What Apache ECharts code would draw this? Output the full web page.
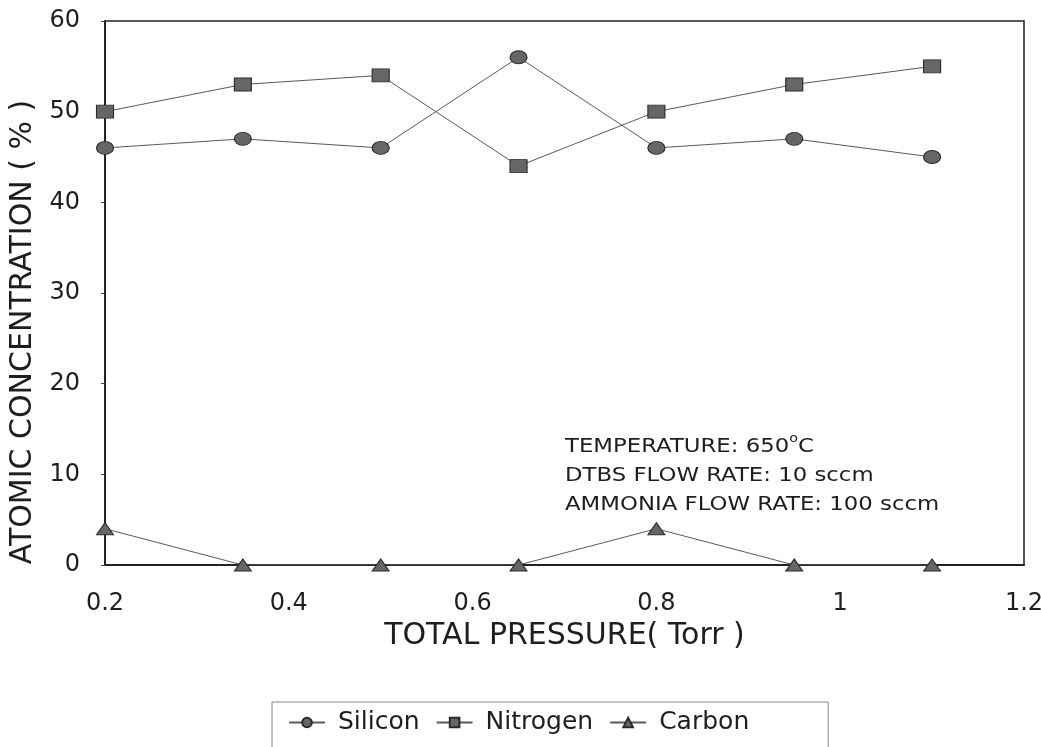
<!DOCTYPE html>
<html>
<head>
<meta charset="utf-8">
<script src="https://cdn.jsdelivr.net/npm/echarts@6/dist/echarts.min.js"></script>
<style>
  html, body { margin: 0; padding: 0; background: #fff; }
  #chart { width: 1041px; height: 747px; }
</style>
</head>
<body>
<div id="chart"></div>
<script>
// Total pressure (Torr)
const pressure = [0.2, 0.35, 0.5, 0.65, 0.8, 0.95, 1.1];
// Atomic concentration (%)
const silicon  = [46, 47, 46, 56, 46, 47, 45];
const nitrogen = [50, 53, 54, 44, 50, 53, 55];
const carbon   = [4, 0, 0, 0, 4, 0, 0];

const xTicks = [0.2, 0.4, 0.6, 0.8, 1, 1.2];
const yTicks = [0, 10, 20, 30, 40, 50, 60];

const conditions = [
  'TEMPERATURE: 650{sup|o}C',
  'DTBS FLOW RATE: 10 sccm',
  'AMMONIA FLOW RATE: 100 sccm'
];

const FONT = '"DejaVu Sans", "Liberation Sans", Arial, sans-serif';
const INK = '#1e1e1e';
const chart = echarts.init(document.getElementById('chart'), null, { renderer: 'canvas' });

function pairs(ys) { return pressure.map((x, i) => [x, ys[i]]); }

function series(name, ys, symbol, size) {
  return {
    name, type: 'line', data: pairs(ys),
    symbol, symbolSize: size,
    lineStyle: { color: '#5a5a5a', width: 1 },
    itemStyle: { color: '#666', borderColor: '#2a2a2a', borderWidth: 1 },
    emphasis: { disabled: true },
    z: 3
  };
}

chart.setOption({
  animation: false,
  backgroundColor: '#fff',
  textStyle: { fontFamily: FONT, color: INK },
  grid: {
    left: 105, right: 17, top: 21, bottom: 182,
    containLabel: false, outerBoundsMode: 'none',
    show: true, borderColor: '#222', borderWidth: 1.5
  },
  xAxis: {
    type: 'value', min: 0.2, max: 1.2, interval: 0.2,
    name: 'TOTAL PRESSURE( Torr )', nameLocation: 'middle', nameGap: 42,
    nameTextStyle: { fontSize: 30, fontFamily: FONT, color: INK },
    axisLine: { lineStyle: { color: '#222', width: 2 } },
    axisTick: { show: false },
    splitLine: { show: false },
    axisLabel: {
      fontSize: 24, margin: 27, color: INK, fontFamily: FONT,
      formatter: v => { const t = xTicks.find(k => Math.abs(k - v) < 1e-6); return t === undefined ? '' : String(t); }
    }
  },
  yAxis: {
    type: 'value', min: 0, max: 60, interval: 10,
    name: 'ATOMIC CONCENTRATION ( % )', nameLocation: 'middle', nameGap: 63,
    nameTextStyle: { fontSize: 30, fontFamily: FONT, color: INK, padding: [0, 78, 0, 0] },
    axisLine: { show: true, lineStyle: { color: '#222', width: 2 } },
    axisTick: { show: true, length: 4, lineStyle: { color: '#444', width: 1 } },
    splitLine: { show: false },
    axisLabel: {
      fontSize: 24, margin: 25, color: INK, fontFamily: FONT,
      formatter: v => yTicks.includes(v) ? String(v) : ''
    }
  },
  legend: {
    left: 272, top: 702,
    padding: [8, 79, 30, 16],
    borderColor: '#888', borderWidth: 1,
    itemWidth: 36, itemHeight: 12, itemGap: 16,
    textStyle: { fontSize: 25, fontFamily: FONT, color: INK, padding: [0, 0, 0, 8] },
    data: ['Silicon', 'Nitrogen', 'Carbon']
  },
  graphic: [{
    type: 'text', left: 565, top: 433, scaleX: 1.2,
    style: {
      text: conditions.join('\n'),
      font: '19px ' + FONT, fill: INK, lineHeight: 29,
      rich: { sup: { font: '12px ' + FONT, verticalAlign: 'top', padding: [0, 0, 10, 0], lineHeight: 29 } }
    }
  }],
  series: [
    series('Silicon', silicon, 'circle', [17, 13]),
    series('Nitrogen', nitrogen, 'rect', [17, 13]),
    series('Carbon', carbon, 'triangle', [17, 12])
  ]
});
</script>
</body>
</html>
